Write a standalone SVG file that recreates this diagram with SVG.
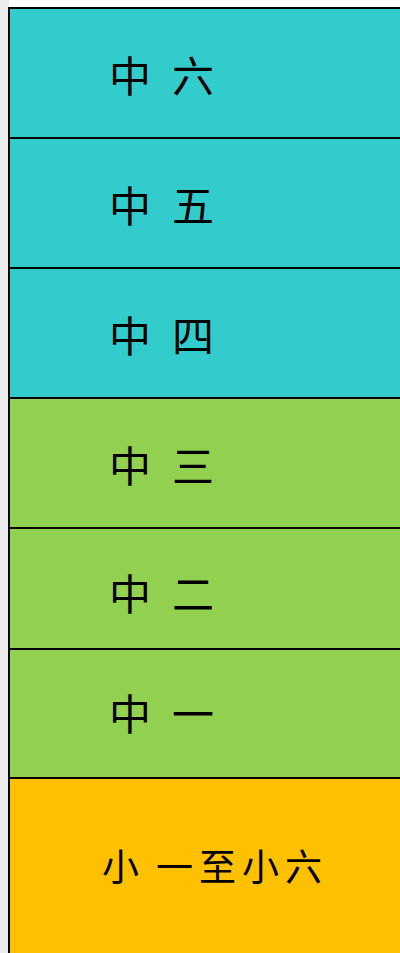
<svg xmlns="http://www.w3.org/2000/svg" width="400" height="953" viewBox="0 0 400 953">
<style>
.t{font-family:"Noto Sans CJK SC","Noto Sans CJK TC",sans-serif;font-size:42px;fill:#000;dominant-baseline:central}
.s{font-family:"Noto Sans CJK SC","Noto Sans CJK TC",sans-serif;font-size:37px;fill:#000;dominant-baseline:central}
.b{stroke:#000;stroke-width:2}
</style>
<rect x="0" y="0" width="400" height="953" fill="#fff"/>
<rect x="0" y="0" width="9" height="953" fill="#ececec"/>
<g id="n6"><rect class="b" x="9" y="8" width="395" height="130" fill="#33cccc"/><text class="t" x="109" y="73">中</text><text class="t" x="172" y="73">六</text></g>
<g id="n5"><rect class="b" x="9" y="138" width="395" height="130" fill="#33cccc"/><text class="t" x="109" y="203">中</text><text class="t" x="172" y="203">五</text></g>
<g id="n4"><rect class="b" x="9" y="268" width="395" height="130" fill="#33cccc"/><text class="t" x="109" y="333">中</text><text class="t" x="172" y="333">四</text></g>
<g id="n3"><rect class="b" x="9" y="398" width="395" height="130" fill="#92d050"/><text class="t" x="109" y="463">中</text><text class="t" x="172" y="463">三</text></g>
<g id="n2"><rect class="b" x="9" y="528" width="395" height="121" fill="#92d050"/><text class="t" x="109" y="591">中</text><text class="t" x="172" y="591">二</text></g>
<g id="n1"><rect class="b" x="9" y="649" width="395" height="129" fill="#92d050"/><text class="t" x="109" y="711">中</text><text class="t" x="172" y="711">一</text></g>
<g id="n0"><rect class="b" x="9" y="778" width="395" height="180" fill="#ffc000"/><text class="s" x="102" y="865">小</text><text class="s" x="156" y="865" letter-spacing="6">一至小六</text></g>
<g id="connectors"></g>
</svg>
